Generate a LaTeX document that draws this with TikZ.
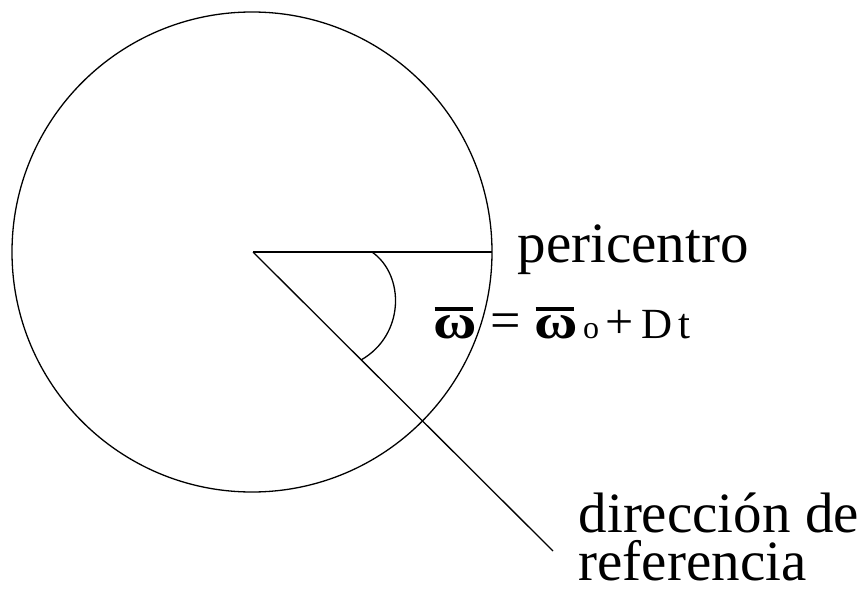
\documentclass[tikz,border=0pt]{standalone}
\usepackage{fontspec}
\setmainfont{Liberation Serif}
\usepackage{graphicx}
\newcommand{\fsz}[1]{\fontsize{#1}{#1}\selectfont}
\newcommand{\wbar}{\leavevmode\rlap{\hspace{1pt}\raisebox{27pt}{\rule{38pt}{4.5pt}}}\scalebox{1.45}[1.2]{\bfseries ω}}
\begin{document}
\begin{tikzpicture}[x=1pt,y=-1pt,line width=1.3pt,
  lbl/.style={inner sep=0pt,anchor=base west,font=\fsz{57},text depth=0pt}]
\useasboundingbox (0,0) rectangle (863,589);
\coordinate (C) at (252,252);
\coordinate (O) at (253,252);
\coordinate (P) at (492,252);
\coordinate (R) at (553,551);
\coordinate (A1) at (372,252);
\coordinate (A2) at (361,360);
\draw (C) circle[radius=240];
\draw (O) -- (P);
\draw (O) -- (R);
\draw (A1) .. controls (405,275) and (405,335) .. (A2);
\node[lbl] (peri) at (517,262) {pericentro};
\node[lbl] (dir) at (578,532) {dirección de};
\node[lbl,text height=40pt] (ref) at (578,580) {referencia};
\node[inner sep=0pt,anchor=base west] (eq) at (433,338)
  {\fsz{41}\wbar\hspace{13pt}{\fsz{54}=}\hspace{14pt}\wbar\hspace{5pt}{\fsz{32}o}\hspace{6pt}{\fsz{50}+}\hspace{8pt}{\fsz{43}D\hspace{6pt}t}};
\end{tikzpicture}
\end{document}
